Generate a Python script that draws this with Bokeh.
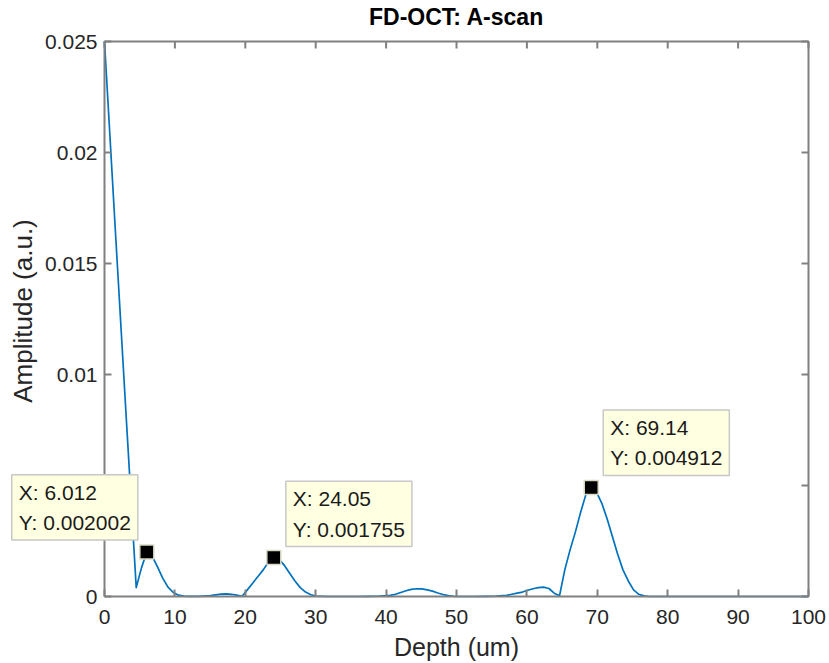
from bokeh.plotting import figure
from bokeh.models import Range1d, FixedTicker, Label, ColumnDataSource
from bokeh.embed import file_html
from bokeh.resources import INLINE

# ---- data ----
depth_um = [0.0, 1.503, 3.006, 4.509, 5.26, 6.012, 6.764, 7.515, 8.267, 9.018,
            9.77, 10.521, 11.273, 12.024, 13.527, 15.03, 16.533, 17.285, 18.036, 18.788,
            19.539, 20.291, 21.042, 21.794, 22.545, 23.297, 24.048, 24.8, 25.551, 26.303,
            27.054, 27.806, 28.557, 29.309, 30.06, 31.563, 33.066, 34.569, 36.072, 37.575,
            39.078, 40.581, 41.333, 42.084, 42.836, 43.587, 44.339, 45.09, 45.842, 46.593,
            47.345, 48.096, 48.848, 49.599, 51.102, 52.605, 54.108, 55.611, 57.114, 57.866,
            58.617, 59.369, 60.12, 60.872, 61.623, 62.375, 63.126, 63.878, 64.629, 65.381,
            66.132, 66.884, 67.635, 68.387, 69.138, 69.89, 70.641, 71.393, 72.144, 72.896,
            73.647, 74.399, 75.15, 75.902, 76.653, 77.405, 78.156, 79.659, 81.162, 82.665,
            84.168, 85.671, 87.174, 88.677, 90.18, 91.683, 93.186, 94.689, 96.192, 97.695,
            99.198, 100.0]
amplitude = [0.025, 0.0167, 0.0085, 0.0004, 0.0013, 0.002002, 0.00182, 0.00135, 0.00083, 0.00042,
             0.00018, 0.00006, 0.00002, 0.000005, 0.00001, 0.00004, 0.00011, 0.00012, 0.0001, 0.00006,
             0.00001, 0.0003, 0.0006, 0.0009, 0.0012, 0.00155, 0.001755, 0.00168, 0.0014, 0.00105,
             0.0007, 0.0004, 0.0002, 0.00008, 0.00002, 0.0, 0.0, 0.0, 0.0, 0.00001,
             0.00002, 0.00005, 0.0001, 0.00018, 0.00026, 0.00032, 0.00035, 0.00034, 0.0003, 0.00024,
             0.00016, 0.00009, 0.00004, 0.00001, 0.0, 0.0, 0.00001, 0.00002, 0.00005, 0.0001,
             0.00015, 0.0002, 0.00028, 0.00035, 0.0004, 0.00042, 0.00036, 0.00015, 0.00003, 0.0012,
             0.0021, 0.0029, 0.0038, 0.0046, 0.004912, 0.0047, 0.0042, 0.0035, 0.0027, 0.0019,
             0.0012, 0.0007, 0.0003, 0.0001, 0.00003, 0.0, 0.0, 0.0, 0.0, 0.0,
             0.0, 0.0, 0.0, 0.0, 0.0, 0.0, 0.0, 0.0, 0.0, 0.0,
             0.0, 0.0]

tip_x = [6.012, 24.05, 69.14]
tip_y = [0.002002, 0.001755, 0.004912]

x_ticks = [0, 10, 20, 30, 40, 50, 60, 70, 80, 90, 100]
y_ticks = [0, 0.005, 0.01, 0.015, 0.02, 0.025]
y_tick_labels = ["0", "0.005", "0.01", "0.015", "0.02", "0.025"]

title_text = "FD-OCT: A-scan"
x_label = "Depth (um)"
y_label = "Amplitude (a.u.)"

# ---- layout (pixels) ----
W, H = 828, 662
PL, PR, PT, PB = 104, 808, 41, 596
TEXT = "#262626"
AXIS = "#808080"
FONT = "Liberation Sans"
TICK = 7

x_min, x_max = x_ticks[0], x_ticks[-1]
y_min, y_max = y_ticks[0], y_ticks[-1]
sx = (PR - PL) / (x_max - x_min)
sy = (PB - PT) / (y_max - y_min)

p = figure(width=W, height=H, output_backend="svg", toolbar_location=None,
           x_range=Range1d(x_min - PL / sx, x_max + (W - PR) / sx),
           y_range=Range1d(y_min - (H - PB) / sy, y_max + PT / sy),
           min_border=0, min_border_left=0, min_border_right=0,
           min_border_top=0, min_border_bottom=0)
p.background_fill_color = "white"
p.border_fill_color = "white"
p.outline_line_color = None
p.grid.visible = False

def style_axis(ax):
    ax.axis_line_color = AXIS
    ax.axis_line_width = 2
    ax.major_tick_line_color = AXIS
    ax.major_tick_line_width = 2
    ax.major_tick_in = TICK
    ax.major_tick_out = 0
    ax.minor_tick_line_color = None
    ax.major_label_text_font = FONT
    ax.major_label_text_color = TEXT
    ax.major_label_text_font_size = "21px"

xax = p.xaxis[0]
yax = p.yaxis[0]
xax.ticker = FixedTicker(ticks=x_ticks)
yax.ticker = FixedTicker(ticks=y_ticks)
yax.major_label_overrides = {t: l for t, l in zip(y_ticks, y_tick_labels)}
style_axis(xax)
style_axis(yax)
xax.fixed_location = y_min
yax.fixed_location = x_min
xax.bounds = (x_min, x_max)
yax.bounds = (y_min, y_max)
xax.major_label_standoff = 13
yax.major_label_standoff = 7

# box: top and right edges with inward ticks
p.line(x=[x_min, x_max, x_max], y=[y_max, y_max, y_min], line_color=AXIS, line_width=2)
p.segment(x0=x_ticks, y0=[y_max] * len(x_ticks), x1=x_ticks,
          y1=[y_max - TICK / sy] * len(x_ticks), line_color=AXIS, line_width=2)
p.segment(x0=[x_max] * len(y_ticks), y0=y_ticks, x1=[x_max - TICK / sx] * len(y_ticks),
          y1=y_ticks, line_color=AXIS, line_width=2)

src = ColumnDataSource(data=dict(x=depth_um, y=amplitude))
p.line("x", "y", source=src, line_color="#0072BD", line_width=1.7, line_join="round")

p.scatter(x=tip_x, y=tip_y, marker="square", size=14, fill_color="black",
          line_color="#d9d9c4", line_width=1.5)

x_mid = (x_min + x_max) / 2

p.add_layout(Label(x=x_mid, y=H - 16.5, x_units="data", y_units="screen", anchor="center",
                   text=title_text, text_font=FONT, text_font_size="23px",
                   text_font_style="bold", text_color="#000000"))
p.add_layout(Label(x=x_mid, y=H - 646, x_units="data", y_units="screen", anchor="center",
                   text=x_label, text_font=FONT, text_font_size="25px", text_color=TEXT))
p.add_layout(Label(x=22, y=H - 310.5, x_units="screen", y_units="screen", anchor="center",
                   angle=90, angle_units="deg",
                   text=y_label, text_font=FONT, text_font_size="26px", text_color=TEXT))

anchors = ["bottom_right", "bottom_left", "bottom_left"]
x_offs = [-9, 12, 12]
y_offs = [12, 11, 12]
for tx, ty, anc, xo, yo in zip(tip_x, tip_y, anchors, x_offs, y_offs):
    p.add_layout(Label(x=tx, y=ty, x_units="data", y_units="data", anchor=anc,
                       x_offset=xo, y_offset=yo,
                       text=f"X: {tx:g}\nY: {ty:g}",
                       text_font=FONT, text_font_size="21px", text_color="#1a1a1a",
                       text_line_height=1.32,
                       background_fill_color="#FFFFE1", border_line_color="#c8c8c8",
                       border_line_width=1.5, padding=(7, 6)))

open("out.html", "w").write(file_html(p, INLINE))
